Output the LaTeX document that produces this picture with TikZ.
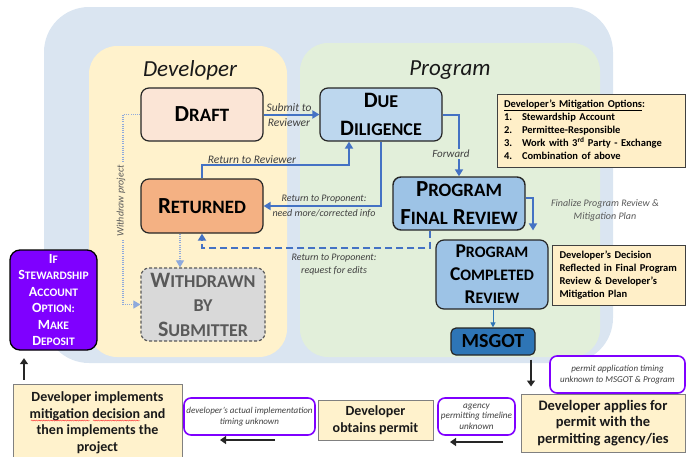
\documentclass[tikz,border=0pt]{standalone}
\usepackage{fontspec}
\setmainfont{Carlito}
\usetikzlibrary{arrows.meta,calc,decorations.pathmorphing}

\definecolor{outerblue}{HTML}{DAE5F1}
\definecolor{devpanel}{HTML}{FFF2CC}
\definecolor{progpanel}{HTML}{E2EFDA}
\definecolor{draftfill}{HTML}{FBE5D6}
\definecolor{duefill}{HTML}{BDD7EE}
\definecolor{retfill}{HTML}{F4B183}
\definecolor{wdfill}{HTML}{D9D9D9}
\definecolor{wdtext}{HTML}{595959}
\definecolor{pfrfill}{HTML}{9DC3E6}
\definecolor{msgotfill}{HTML}{2E75B6}
\definecolor{notefill}{HTML}{FFF2CC}
\definecolor{optfill}{HTML}{FFEFC8}
\definecolor{deposit}{HTML}{7F00FF}
\definecolor{flowblue}{HTML}{4472C4}
\definecolor{dotblue}{HTML}{8FAADC}
\definecolor{labelgray}{HTML}{404040}

% capital letter followed by small-cap style remainder
\makeatletter
\newcommand\capfirst[2]{#1{\fontsize{\fpeval{0.82*\f@size}}{\f@baselineskip}\selectfont #2}}
\makeatother
\newcommand\fsz[2]{\fontsize{#1}{#2}\selectfont}

\begin{document}
\begin{tikzpicture}[x=1pt,y=-1pt,
  stage/.style={draw=black!85, line width=1.2pt, rounded corners=8pt,
    align=center, inner sep=0pt},
  paneltitle/.style={font={\fsz{23}{28}\itshape}, text=black!90, inner sep=0pt},
  edgelabel/.style={font={\fsz{10}{15}\itshape}, text=labelgray, inner sep=0pt, align=center},
  note/.style={draw=black!50, line width=1pt, fill=notefill, align=center,
    inner sep=0pt, font={\fsz{14}{16.5}\bfseries}, text=black!90},
  timing/.style={draw=deposit, line width=1.6pt, rounded corners=7pt, fill=white,
    align=center, inner sep=0pt, font={\fsz{9}{11}\itshape}, text=labelgray},
  flow/.style={draw=flowblue, line width=2pt, -{Triangle[length=7pt,width=8pt]}},
  flowdash/.style={flow, dash pattern=on 7pt off 4pt},
  wdline/.style={draw=dotblue, line width=1.1pt, dash pattern=on 1pt off 1.2pt,
    -{Triangle[length=7pt,width=8pt]}},
  blackarrow/.style={draw=black!85, line width=1.4pt, -{Triangle[length=6pt,width=8pt]}}
]
\useasboundingbox (0,0) rectangle (686,456);
\clip (0,0) rectangle (686,456);

% background panels
\fill[outerblue, rounded corners=45pt] (44,7) rectangle (613,363);
\fill[devpanel, rounded corners=28pt] (89,46) rectangle (287,357);
\fill[progpanel, rounded corners=28pt] (300,43) rectangle (600,357);

\node[paneltitle] (devtitle) at (190,70) {Developer};
\node[paneltitle] (progtitle) at (450,70) {Program};

% stages
\node[stage, fill=draftfill, minimum width=122pt, minimum height=53pt,
  font={\fsz{23}{28}\bfseries}] (draft) at (202,114.5) {\capfirst{D}{RAFT}};
\node[stage, fill=duefill, minimum width=122pt, minimum height=53pt,
  font={\fsz{22}{28.5}\bfseries}] (due) at (381,114.5)
  {\capfirst{D}{UE}\\\capfirst{D}{ILIGENCE}};
\node[stage, fill=retfill, minimum width=122pt, minimum height=54pt,
  font={\fsz{23}{28}\bfseries}] (returned) at (202,206) {\capfirst{R}{ETURNED}};
\node[stage, draw=wdtext, dash pattern=on 3pt off 2pt, fill=wdfill, text=wdtext,
  minimum width=124pt, minimum height=73pt, font={\fsz{22}{24.5}\bfseries}]
  (withdrawn) at (203,304.5)
  {\capfirst{W}{ITHDRAWN}\\\capfirst{}{BY}\\\capfirst{S}{UBMITTER}};
\node[stage, line width=1.4pt, fill=pfrfill, minimum width=132pt, minimum height=53pt,
  font={\fsz{23}{28}\bfseries}] (pfr) at (459,203.5)
  {\capfirst{P}{ROGRAM}\\\capfirst{F}{INAL} \capfirst{R}{EVIEW}};
\node[stage, fill=pfrfill, minimum width=112pt, minimum height=69pt,
  font={\fsz{19.5}{23}\bfseries}] (pcr) at (492,274.5)
  {\capfirst{P}{ROGRAM}\\\capfirst{C}{OMPLETED}\\\capfirst{R}{EVIEW}};
\node[stage, rounded corners=5pt, fill=msgotfill, minimum width=84pt, minimum height=27pt,
  font={\fsz{20}{24}\bfseries}] (msgot) at (493,341.5) {MSGOT};

% side notes
\node[draw=black!75, line width=1pt, fill=optfill, minimum width=188pt, minimum height=73pt,
  text width=174pt, align=left, inner xsep=7pt, inner ysep=0pt,
  font={\fsz{10.5}{13}\bfseries}] (mitopt) at (591,130.5)
  {\begin{tabular}{@{}p{18pt}@{}l@{}}
   \multicolumn{2}{@{}l@{}}{\underline{Developer’s Mitigation Options}:}\\
   1. & Stewardship Account\\
   2. & Permittee-Responsible\\
   3. & Work with 3\textsuperscript{rd} Party - Exchange\\
   4. & Combination of above
   \end{tabular}};
\node[draw=black!75, line width=1pt, fill=optfill, minimum width=133pt, minimum height=60pt,
  text width=119pt, align=left, inner xsep=7pt, inner ysep=0pt,
  font={\fsz{10.5}{13}\bfseries}] (decision) at (619,275)
  {Developer’s Decision\\Reflected in Final Program\\Review \& Developer’s\\Mitigation Plan};

\node[draw=black, line width=1.3pt, rounded corners=10pt, fill=deposit, text=white,
  minimum width=87pt, minimum height=100pt, align=center, inner sep=0pt,
  font={\fsz{14}{16.5}\bfseries}] (deposit) at (53.5,300)
  {\capfirst{I}{F}\\\capfirst{S}{TEWARDSHIP}\\\capfirst{A}{CCOUNT}\\\capfirst{O}{PTION:}\\\capfirst{M}{AKE}\\\capfirst{D}{EPOSIT}};

% bottom row
\node[note, minimum width=169pt, minimum height=78pt] (implements) at (97.5,423)
  {Developer implements\\mitigation decision and\\then implements the\\project};
\node[timing, minimum width=131pt, minimum height=37pt] (timeimpl) at (249.5,416.5)
  {developer’s actual implementation\\timing unknown};
\node[note, minimum width=115pt, minimum height=40pt] (obtains) at (375.5,420)
  {Developer\\obtains permit};
\node[timing, font={\fsz{9.2}{10.5}\itshape}, minimum width=77pt, minimum height=37pt]
  (timeagency) at (476.5,416.5) {agency\\permitting timeline\\unknown};
\node[note, font={\fsz{14.5}{16.5}\bfseries}, minimum width=164pt, minimum height=58pt]
  (applies) at (603,423) {Developer applies for\\permit with the\\permitting agency/ies};
\node[timing, minimum width=135pt, minimum height=37pt] (timeapply) at (617.5,374.5)
  {permit application timing\\unknown to MSGOT \& Program};

% spell-check marks under two words
\draw[red!80, line width=0.45pt, decorate,
  decoration={snake, amplitude=0.5pt, segment length=2.4pt}] (31,420.5) -- (90,420.5);
\draw[red!80, line width=0.45pt, decorate,
  decoration={snake, amplitude=0.5pt, segment length=2.4pt}] (93,420.5) -- (140,420.5);

% review flow
\draw[flow] (draft.east) -- (due.west);
\node[edgelabel, font={\fsz{11.5}{15}\itshape}] (lsubmit) at (289,115.5) {Submit to\\Reviewer};

\draw[flow] (due.east) -| (pfr.north);
\node[edgelabel, font={\fsz{11}{15}\itshape}, fill=progpanel, inner ysep=1pt]
  (lforward) at (451,154) {Forward};

\coordinate (retrev) at (349,165);
\draw[flow] (returned.north) |- (retrev) -- (retrev |- due.south);
\node[edgelabel, font={\fsz{11.5}{15}\itshape}] (lretrev) at (252,159.5) {Return to Reviewer};

\draw[flow] (due.south) |- (returned.east);
\node[edgelabel] (lretprop) at (324,206.5) {Return to Proponent:\\need more/corrected info};

\coordinate (edits) at (430,248);
\draw[flowdash] (edits |- pfr.south) -- (edits) -| (returned.south);
\node[edgelabel, font={\fsz{10}{13}\itshape}] (lretedit) at (334,264.5)
  {Return to Proponent:\\request for edits};

\coordinate (fin) at (533,198);
\draw[flow, shorten >=9pt] (pfr.east |- fin) -- (fin) -- (fin |- pcr.north);
\node[edgelabel, font={\fsz{10}{13.5}\itshape}, text=wdtext] (lfinal) at (605,210.5)
  {Finalize Program Review \&\\Mitigation Plan};

\draw[draw=msgotfill, line width=1pt, -{Triangle[length=5pt,width=5pt]}]
  (pcr.south -| msgot.north) -- (msgot.north);

% withdrawal paths
\draw[wdline] (returned.south -| 180,0) -- (withdrawn.north -| 180,0);
\coordinate (wdcorner) at (123,114.5);
\draw[wdline] (draft.west) -- (wdcorner) |- (withdrawn.west);
\node[edgelabel, rotate=90, fill=devpanel, inner xsep=2pt, text=wdtext] (lwithdraw)
  at (121,201) {Withdraw project};

% hand-off to the developer
\coordinate (dnx) at (531,0);
\draw[blackarrow, shorten <=4pt, shorten >=7pt] (msgot.south -| dnx) -- (applies.north -| dnx);
\coordinate (agS) at (503,442);
\coordinate (agE) at (450,442);
\draw[blackarrow] (agS) -- (agE);
\coordinate (imS) at (275,440);
\coordinate (imE) at (220,440);
\draw[blackarrow] (imS) -- (imE);
\coordinate (upx) at (24,0);
\draw[blackarrow, shorten <=4pt, shorten >=7.5pt] (implements.north -| upx) -- (deposit.south -| upx);
\end{tikzpicture}
\end{document}
